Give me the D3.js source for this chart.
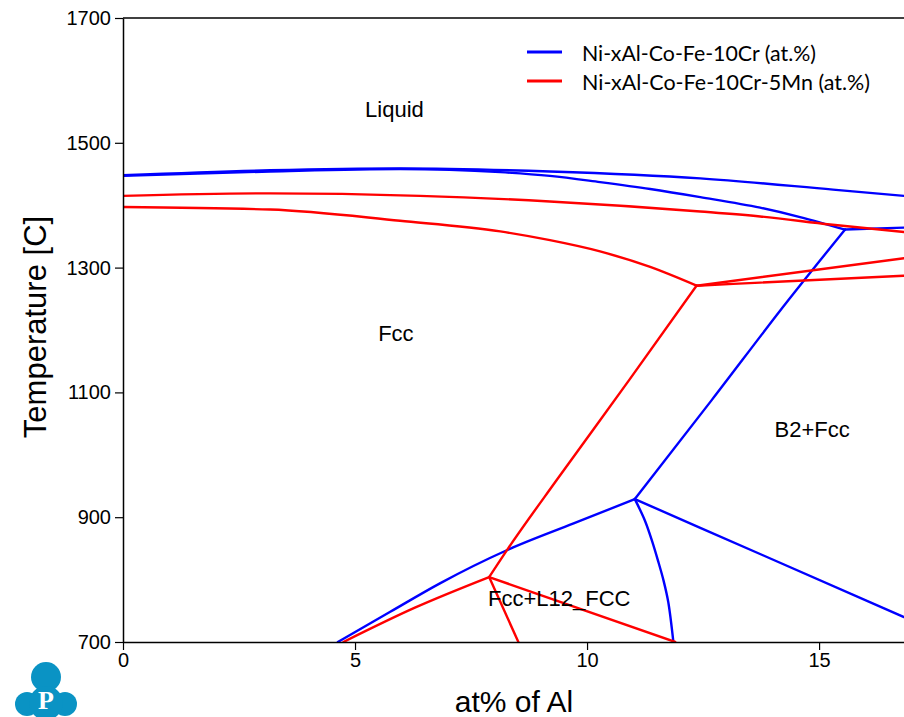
<!DOCTYPE html>
<html>
<head>
<meta charset="utf-8">
<script src="https://cdn.jsdelivr.net/npm/d3@7"></script>
<style>
  html, body { margin: 0; padding: 0; background: #fff; }
  svg { display: block; }
</style>
</head>
<body>
<svg id="chart" width="904" height="717"></svg>
<script>
// ---------- Data (at% Al, Temperature °C) ----------
const xTicks = [0, 5, 10, 15];
const yTicks = [700, 900, 1100, 1300, 1500, 1700];

const seriesNames = ["Ni-xAl-Co-Fe-10Cr (at.%)", "Ni-xAl-Co-Fe-10Cr-5Mn (at.%)"];
const seriesColors = ["#0000ff", "#ff0000"];

// Blue system: Ni-xAl-Co-Fe-10Cr
const blueLiquidusX = [0, 3.17, 5.97, 9.20, 12.44, 15.30, 16.83];
const blueLiquidusT = [1448, 1456, 1459, 1454, 1443, 1425, 1415];
const blueSolidusX  = [0, 3.17, 5.97, 8.13, 9.20, 10.28, 11.36, 12.44, 13.73, 14.59, 15.56];
const blueSolidusT  = [1447, 1454, 1458, 1453, 1447, 1437, 1426, 1413, 1396, 1381, 1361];
const blueB2LiqX    = [15.56, 16.83];
const blueB2LiqT    = [1361, 1364];
const blueB2SolvX   = [11.03, 12.69, 14.34, 15.56];
const blueB2SolvT   = [929, 1088, 1248, 1361];
const blueRightX    = [11.03, 12.44, 13.79, 16.83];
const blueRightT    = [929, 883, 839, 740];
const blueDownX     = [11.03, 11.25, 11.40, 11.53, 11.65, 11.75, 11.86];
const blueDownT     = [929, 894, 862, 830, 798, 764, 700];
const blueL12X      = [4.63, 5.75, 6.83, 8.27, 9.71, 11.03];
const blueL12T      = [700, 748, 794, 847, 890, 929];

// Red system: Ni-xAl-Co-Fe-10Cr-5Mn
const redLiquidusX  = [0, 3.17, 6.40, 9.20, 12.44, 13.73, 15.24, 16.83];
const redLiquidusT  = [1415, 1419, 1415, 1406, 1390, 1382, 1369, 1357];
const redSolidusX   = [0, 3.17, 5.97, 8.13, 9.20, 10.28, 11.36, 12.36];
const redSolidusT   = [1397, 1393, 1375, 1358, 1344, 1326, 1301, 1271];
const redUpperX     = [12.36, 16.83];
const redUpperT     = [1271, 1315];
const redLowerX     = [12.36, 13.73, 16.83];
const redLowerT     = [1271, 1276, 1287];
const redSolvusX    = [7.89, 8.30, 9.35, 10.91, 12.36];
const redSolvusT    = [804, 850, 960, 1120, 1271];
const redAxisX      = [7.89, 8.52];
const redAxisT      = [804, 700];
const redRightX     = [7.89, 11.90];
const redRightT     = [804, 700];
const redL12X       = [4.75, 6.29, 7.89];
const redL12T       = [700, 755, 804];

const regionLabels = ["Liquid", "Fcc", "B2+Fcc", "Fcc+L12_FCC"];
const regionX = [5.85, 5.88, 14.85, 9.40];
const regionT = [1553, 1195, 1040, 769];

// ---------- Layout ----------
const svg = d3.select("#chart");
const mLeft = 123, mRight = 904, mTop = 18, mBottom = 642;

const x = d3.scaleLinear().domain([0, 16.83]).range([mLeft, mRight]);
const y = d3.scaleLinear().domain([700, 1700]).range([mBottom, mTop]);

svg.append("defs").append("clipPath").attr("id", "plotClip")
  .append("rect").attr("x", mLeft).attr("y", mTop - 2)
  .attr("width", mRight - mLeft + 2).attr("height", mBottom - mTop + 2);

// ---------- Curves ----------
function zip(xs, ts) { return xs.map((v, i) => [v, ts[i]]); }
const lineMono = d3.line().x(d => x(d[0])).y(d => y(d[1])).curve(d3.curveMonotoneX);
const lineCR = d3.line().x(d => x(d[0])).y(d => y(d[1])).curve(d3.curveCatmullRom.alpha(0.5));

const blueCurves = [
  [blueLiquidusX, blueLiquidusT], [blueSolidusX, blueSolidusT], [blueB2LiqX, blueB2LiqT],
  [blueB2SolvX, blueB2SolvT], [blueRightX, blueRightT], [blueDownX, blueDownT, "cr"], [blueL12X, blueL12T]
];
const redCurves = [
  [redLiquidusX, redLiquidusT], [redSolidusX, redSolidusT], [redUpperX, redUpperT],
  [redLowerX, redLowerT], [redSolvusX, redSolvusT], [redAxisX, redAxisT],
  [redRightX, redRightT], [redL12X, redL12T]
];

const gCurves = svg.append("g").attr("clip-path", "url(#plotClip)");
[blueCurves, redCurves].forEach((set, si) => {
  set.forEach(c => {
    const gen = c[2] === "cr" ? lineCR : lineMono;
    gCurves.append("path")
      .attr("d", gen(zip(c[0], c[1])))
      .attr("fill", "none")
      .attr("stroke", seriesColors[si])
      .attr("stroke-width", 2.4)
      .attr("stroke-linejoin", "round")
      .attr("stroke-linecap", "round");
  });
});

// ---------- Axes ----------
const xAxis = d3.axisBottom(x).tickValues(xTicks).tickFormat(d3.format("d"))
  .tickSize(8).tickSizeOuter(0).tickPadding(3);
const yAxis = d3.axisLeft(y).tickValues(yTicks).tickFormat(d3.format("d"))
  .tickSize(8).tickSizeOuter(0).tickPadding(4);

const gx = svg.append("g").attr("transform", `translate(0,${mBottom})`).call(xAxis);
const gy = svg.append("g").attr("transform", `translate(${mLeft},0)`).call(yAxis);
[gx, gy].forEach(g => {
  g.select(".domain").attr("stroke", "#000").attr("stroke-width", 1.5);
  g.selectAll(".tick line").attr("stroke", "#000").attr("stroke-width", 1.2);
  g.selectAll(".tick text").attr("fill", "#000")
    .style("font-family", "'Liberation Sans', Arial, sans-serif").style("font-size", "20px");
});
// top border
svg.append("line").attr("x1", mLeft).attr("x2", mRight).attr("y1", mTop).attr("y2", mTop)
  .attr("stroke", "#000").attr("stroke-width", 1.5);

// Axis titles
svg.append("text").text("at% of Al")
  .attr("x", 514).attr("y", 712).attr("text-anchor", "middle")
  .style("font-family", "'Liberation Sans', Arial, sans-serif").style("font-size", "30px");
svg.append("text").text("Temperature [C]")
  .attr("transform", "translate(46,327) rotate(-90)").attr("text-anchor", "middle")
  .style("font-family", "'Liberation Sans', Arial, sans-serif").style("font-size", "31px");

// Region labels
svg.append("g").selectAll("text").data(regionLabels).join("text")
  .text(d => d)
  .attr("x", (d, i) => x(regionX[i]))
  .attr("y", (d, i) => y(regionT[i]))
  .attr("text-anchor", "middle").attr("dominant-baseline", "central")
  .style("font-family", "'Liberation Sans', Arial, sans-serif").style("font-size", "22px");

// Legend
const legendTextWidths = [234, 288];
const legend = svg.append("g");
seriesNames.forEach((name, i) => {
  const ly = 52 + i * 29;
  legend.append("line").attr("x1", 527).attr("x2", 562).attr("y1", ly).attr("y2", ly)
    .attr("stroke", seriesColors[i]).attr("stroke-width", 3);
  legend.append("text").text(name).attr("x", 582).attr("y", ly)
    .attr("dominant-baseline", "central")
    .attr("textLength", legendTextWidths[i]).attr("lengthAdjust", "spacingAndGlyphs")
    .style("font-family", "Lato, 'Open Sans', sans-serif").style("font-size", "21px");
});

// Logo (cloud with P)
const logo = svg.append("g").attr("fill", "#0a93c4");
[[46, 677, 15], [27, 704, 12], [65, 704, 12], [46, 703, 17]].forEach(c => {
  logo.append("circle").attr("cx", c[0]).attr("cy", c[1]).attr("r", c[2]);
});
svg.append("text").text("P").attr("x", 46).attr("y", 709).attr("text-anchor", "middle")
  .attr("fill", "#fff").style("font-family", "'Liberation Serif', 'DejaVu Serif', serif")
  .style("font-weight", "bold").style("font-size", "26px");
</script>
</body>
</html>
